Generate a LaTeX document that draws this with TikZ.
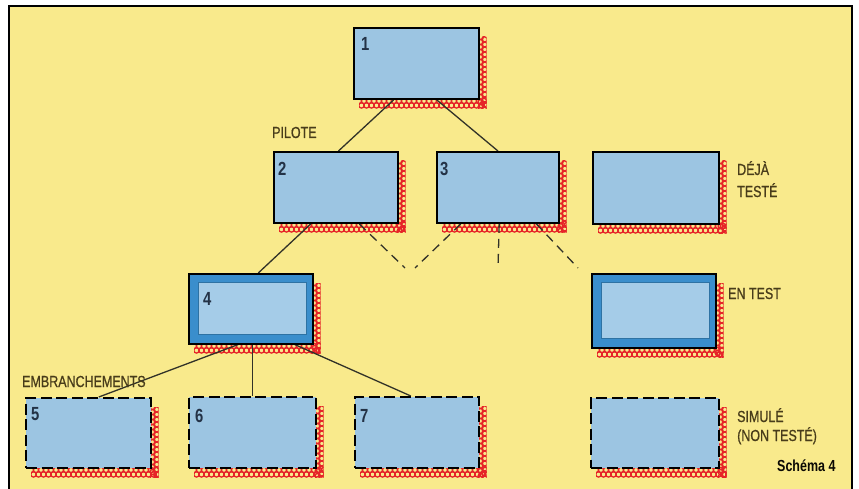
\documentclass[tikz,border=0pt]{standalone}
\usepackage{fontspec}
\setmainfont{Liberation Sans}[FakeStretch=0.78]
\newfontfamily\labf{Liberation Sans}[FakeStretch=0.78, FakeBold=0.8]
\usetikzlibrary{calc}
\definecolor{bgyel}{RGB}{249,234,140}
\definecolor{boxblue}{RGB}{156,197,226}
\definecolor{lightblue}{RGB}{165,204,232}
\definecolor{deepblue}{RGB}{58,142,204}
\definecolor{shred}{RGB}{230,36,40}
\definecolor{labtxt}{RGB}{72,60,26}
\definecolor{numtxt}{RGB}{35,50,70}
\definecolor{linec}{RGB}{50,50,40}
\pgfdeclarelayer{bg}\pgfsetlayers{bg,main}
\newcommand\redshadow[4]{%
 \pgfmathsetmacro\rsA{#1+6}\pgfmathsetmacro\rsB{#1+11}\pgfmathsetmacro\rsC{#3+10}%
 \pgfmathsetmacro\rsD{#2+10}\pgfmathsetmacro\rsE{#2+15}\pgfmathsetmacro\rsF{#4+10}%
 \begin{scope}
 \clip (#1+6,#2+10) rectangle (#3+8.5,#4+10.5);
 \foreach \xx in {\rsA,\rsB,...,\rsC}{
  \draw[shadowring] (\xx,#4+3) circle[radius=2.7];
  \draw[shadowring] (\xx+2.5,#4+7.4) circle[radius=2.7];}
 \foreach \yy in {\rsD,\rsE,...,\rsF}{
  \draw[shadowring] (#3+2.8,\yy) circle[radius=2.7];
  \draw[shadowring] (#3+6.4,\yy+2.5) circle[radius=2.7];}
 \end{scope}}
\tikzset{
 shadowring/.style={draw=shred, line width=1.3pt},
 basebox/.style={rectangle, inner sep=0pt, anchor=north west, fill=boxblue},
 solidbox/.style={basebox, draw=black, line width=1.9pt},
 dashbox/.style={basebox, draw=black, line width=2.3pt, dash pattern=on 11pt off 4.5pt},
 testbox/.style={basebox, draw=black, line width=1.5pt, fill=deepblue},
 innerbox/.style={rectangle, inner sep=0pt, anchor=north west, fill=lightblue, draw=deepblue!80!black, line width=0.6pt},
 conn/.style={draw=linec, line width=1.3pt},
 dconn/.style={conn, dash pattern=on 9pt off 6pt},
 lab/.style={inner sep=0pt, anchor=base west, text=labtxt, font=\labf\fontsize{16}{18}\selectfont},
 num/.style={inner sep=0pt, anchor=base west, text=numtxt, font=\fontsize{19}{20}\selectfont\bfseries},
}
\begin{document}
\begin{tikzpicture}[x=1pt,y=-1pt]
\useasboundingbox (0,0) rectangle (859,489);
% boxes
\node[solidbox, minimum width=125, minimum height=71] (b1) at (353,27) {};
\node[solidbox, minimum width=124, minimum height=71] (b2) at (273,151) {};
\node[solidbox, minimum width=122, minimum height=71] (b3) at (436,151) {};
\node[solidbox, minimum width=126, minimum height=72] (bd) at (592,151) {};
\node[testbox, minimum width=124, minimum height=70] (b4) at (188,273) {};
\node[innerbox, minimum width=108, minimum height=52] (b4in) at ($(b4.north west)+(10,9)$) {};
\node[testbox, minimum width=124, minimum height=74] (bt) at (591,273) {};
\node[innerbox, minimum width=108, minimum height=56] (btin) at ($(bt.north west)+(10,9)$) {};
\node[dashbox, minimum width=125, minimum height=70] (b5) at (25,397) {};
\node[dashbox, minimum width=127, minimum height=71] (b6) at (188,396) {};
\node[dashbox, minimum width=124, minimum height=71] (b7) at (354,396) {};
\node[dashbox, minimum width=128, minimum height=70] (bs) at (590,397) {};
% numbers
\node[num] (n1) at ($(b1.north west)+(8,24)$) {1};
\node[num] (n2) at ($(b2.north west)+(5,25)$) {2};
\node[num] (n3) at ($(b3.north west)+(4,25)$) {3};
\node[num] (n4) at ($(b4.north west)+(15,32)$) {4};
\node[num] (n5) at ($(b5.north west)+(6,23)$) {5};
\node[num] (n6) at ($(b6.north west)+(7,26)$) {6};
\node[num] (n7) at ($(b7.north west)+(6,26)$) {7};
% labels
\node[lab] (pilote) at (272,138) {PILOTE};
\node[lab] (embr) at (22,387) {EMBRANCHEMENTS};
\node[lab] (deja) at (737,175) {DÉJÀ};
\node[lab] (teste) at (737,197) {TESTÉ};
\node[lab] (entest) at (728,299) {EN TEST};
\node[lab] (simule) at (737,422) {SIMULÉ};
\node[lab] (nonteste) at (737,441) {(NON TESTÉ)};
\node[lab, text=black!85!labtxt, font=\fontsize{16}{18}\selectfont\bfseries] (schema) at (777,471) {Schéma 4};
% free ends of dashed connectors
\coordinate (e2) at (405,268);
\coordinate (e3a) at (415,268);
\coordinate (e3b) at (498,268);
\coordinate (e3c) at (578,268);
\begin{pgfonlayer}{bg}
\draw[black, line width=2pt, fill=bgyel] (9,6) rectangle (852,500);
\redshadow{353}{27}{478}{98}
\redshadow{273}{151}{397}{222}
\redshadow{436}{151}{558}{222}
\redshadow{592}{151}{718}{223}
\redshadow{188}{273}{312}{343}
\redshadow{591}{273}{715}{347}
\redshadow{25}{397}{150}{467}
\redshadow{188}{396}{315}{467}
\redshadow{354}{396}{478}{467}
\redshadow{590}{397}{718}{467}
\draw[conn] ($(b1.south west)!0.32!(b1.south east)$) -- ($(b2.north west)!0.52!(b2.north east)$);
\draw[conn] ($(b1.south west)!0.66!(b1.south east)$) -- (b3.north);
\draw[conn] ($(b2.south west)!0.30!(b2.south east)$) -- ($(b4.north west)!0.56!(b4.north east)$);
\draw[dconn] ($(b2.south west)!0.685!(b2.south east)$) -- (e2);
\draw[dconn] ($(b3.south west)!0.20!(b3.south east)$) -- (e3a);
\draw[dconn] ($(b3.south west)!0.51!(b3.south east)$) -- (e3b);
\draw[dconn] ($(b3.south west)!0.81!(b3.south east)$) -- (e3c);
\draw[conn] ($(b4.south west)!0.40!(b4.south east)$) -- ($(b5.north west)!0.58!(b5.north east)$);
\draw[conn] (b4.south -| b6.north) -- (b6.north);
\draw[conn] ($(b4.south west)!0.85!(b4.south east)$) -- ($(b7.north west)!0.45!(b7.north east)$);
\end{pgfonlayer}
\end{tikzpicture}
\end{document}
